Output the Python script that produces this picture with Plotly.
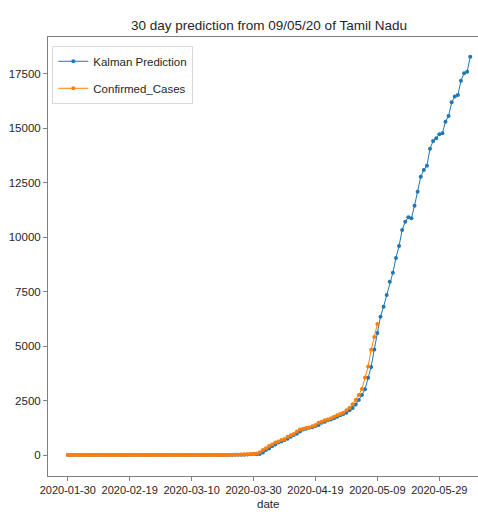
import pandas as pd
import plotly.graph_objects as go

# Daily series, 2020-01-30 .. 2020-05-09 (observed) and .. 2020-06-08 (filtered + forecast)
start_date = "2020-01-30"
observed_end = "2020-05-09"
forecast_end = "2020-06-08"

confirmed_cases = [
    # 2020-01-30 .. 2020-03-07
    0, 0, 0, 0, 0, 0, 0, 0, 0, 0, 0, 0, 0, 0, 0, 0, 0, 0, 0, 0,
    0, 0, 0, 0, 0, 0, 0, 0, 0, 0, 0, 0, 0, 0, 0, 0, 0, 0,
    # 2020-03-08 .. 2020-03-18
    1, 1, 1, 1, 1, 1, 1, 1, 1, 1, 1,
    # 2020-03-19 .. 2020-03-31
    2, 3, 3, 6, 9, 12, 15, 18, 29, 40, 42, 50, 67,
    # April
    124, 234, 309, 411, 485, 571, 621, 690, 738, 834,
    911, 969, 1075, 1173, 1204, 1242, 1267, 1323, 1372, 1477,
    1520, 1596, 1629, 1683, 1755, 1821, 1885, 1937, 2058, 2162,
    # 2020-05-01 .. 2020-05-09
    2323, 2526, 2757, 3023, 3550, 4058, 4829, 5409, 6009,
]

kalman_prediction = [
    # 2020-01-30 .. 2020-03-08
    0, 0, 0, 0, 0, 0, 0, 0, 0, 0, 0, 0, 0, 0, 0, 0, 0, 0, 0, 0,
    0, 0, 0, 0, 0, 0, 0, 0, 0, 0, 0, 0, 0, 0, 0, 0, 0, 0, 0,
    # 2020-03-09 .. 2020-03-19
    1, 1, 1, 1, 1, 1, 1, 1, 1, 1, 1,
    # 2020-03-20 .. 2020-03-31
    2, 3, 3, 5, 8, 11, 14, 17, 27, 38, 41, 30,
    # April
    45, 110, 225, 300, 405, 485, 571, 625, 690, 745,
    835, 915, 975, 1080, 1175, 1210, 1245, 1270, 1325, 1375,
    1478, 1522, 1595, 1630, 1685, 1755, 1820, 1885, 1940, 2055,
    # 2020-05-01 .. 2020-05-09
    2160, 2320, 2525, 2755, 3020, 3545, 4040, 4840, 5600,
    # 30 day forecast, 2020-05-10 .. 2020-06-08
    6344, 6803, 7339, 7950, 8362, 9040, 9587, 10321, 10703, 10903,
    10856, 11436, 12078, 12766, 13073, 13270, 14050, 14400, 14530, 14710,
    14760, 15290, 15550, 16180, 16440, 16510, 17170, 17510, 17580, 18270,
]

y_ticks = [0, 2500, 5000, 7500, 10000, 12500, 15000, 17500]
x_tick_dates = ["2020-01-30", "2020-02-19", "2020-03-10", "2020-03-30",
                "2020-04-19", "2020-05-09", "2020-05-29"]

title_text = "30 day prediction from 09/05/20 of Tamil Nadu"
x_label = "date"

all_dates = pd.date_range(start_date, forecast_end, freq="D")
obs_dates = pd.date_range(start_date, observed_end, freq="D")

FONT = "Liberation Sans, Arial, sans-serif"
TEXT = "#262626"
SPINE = "#808080"

fig = go.Figure()
fig.add_trace(go.Scatter(
    x=all_dates, y=kalman_prediction, mode="lines+markers",
    name="Kalman Prediction", legendgroup="a",
    line=dict(color="#1f77b4", width=1),
    marker=dict(color="#1f77b4", size=4),
))
fig.add_trace(go.Scatter(
    x=obs_dates, y=confirmed_cases, mode="lines+markers",
    name="Confirmed_Cases", legendgroup="b",
    line=dict(color="#ff7f0e", width=1),
    marker=dict(color="#ff7f0e", size=4),
))

fig.update_layout(
    width=478, height=512,
    margin=dict(l=48, r=0, t=37, b=36),
    paper_bgcolor="white", plot_bgcolor="white",
    font=dict(family=FONT, size=11, color=TEXT),
    showlegend=True,
    legend=dict(
        x=0.01, y=0.98, xanchor="left", yanchor="top",
        bgcolor="rgba(255,255,255,0.8)", bordercolor="#d9d9d9", borderwidth=1,
        font=dict(family=FONT, size=11.5, color=TEXT),
        traceorder="grouped", tracegroupgap=8,
    ),
    xaxis=dict(
        type="date",
        range=["2020-01-23 14:24", "2020-06-10 12:00"],
        tickvals=x_tick_dates, ticktext=x_tick_dates, tickangle=0,
        ticks="outside", ticklen=4, tickcolor=SPINE,
        showline=True, linecolor=SPINE, linewidth=1, mirror=True,
        showgrid=False, zeroline=False, automargin=False,
        tickfont=dict(family=FONT, size=11, color=TEXT),
    ),
    yaxis=dict(
        range=[-963, 19174],
        tickvals=y_ticks, ticktext=[str(v) for v in y_ticks],
        ticks="outside", ticklen=4, tickcolor=SPINE,
        showline=True, linecolor=SPINE, linewidth=1,
        showgrid=False, zeroline=False, automargin=False,
        tickfont=dict(family=FONT, size=11.5, color=TEXT),
    ),
    annotations=[
        dict(text=title_text, xref="paper", yref="paper",
             x=(269 - 48) / 430, y=1 + (37 - 25) / 439,
             xanchor="center", yanchor="middle", showarrow=False,
             font=dict(family=FONT, size=13.5, color=TEXT)),
        dict(text=x_label, xref="paper", yref="paper",
             x=(268 - 48) / 430, y=-(511 - 476) / 439,
             xanchor="center", yanchor="bottom", showarrow=False,
             borderpad=0,
             font=dict(family=FONT, size=11.5, color=TEXT)),
    ],
)

fig.write_html("out.html")
